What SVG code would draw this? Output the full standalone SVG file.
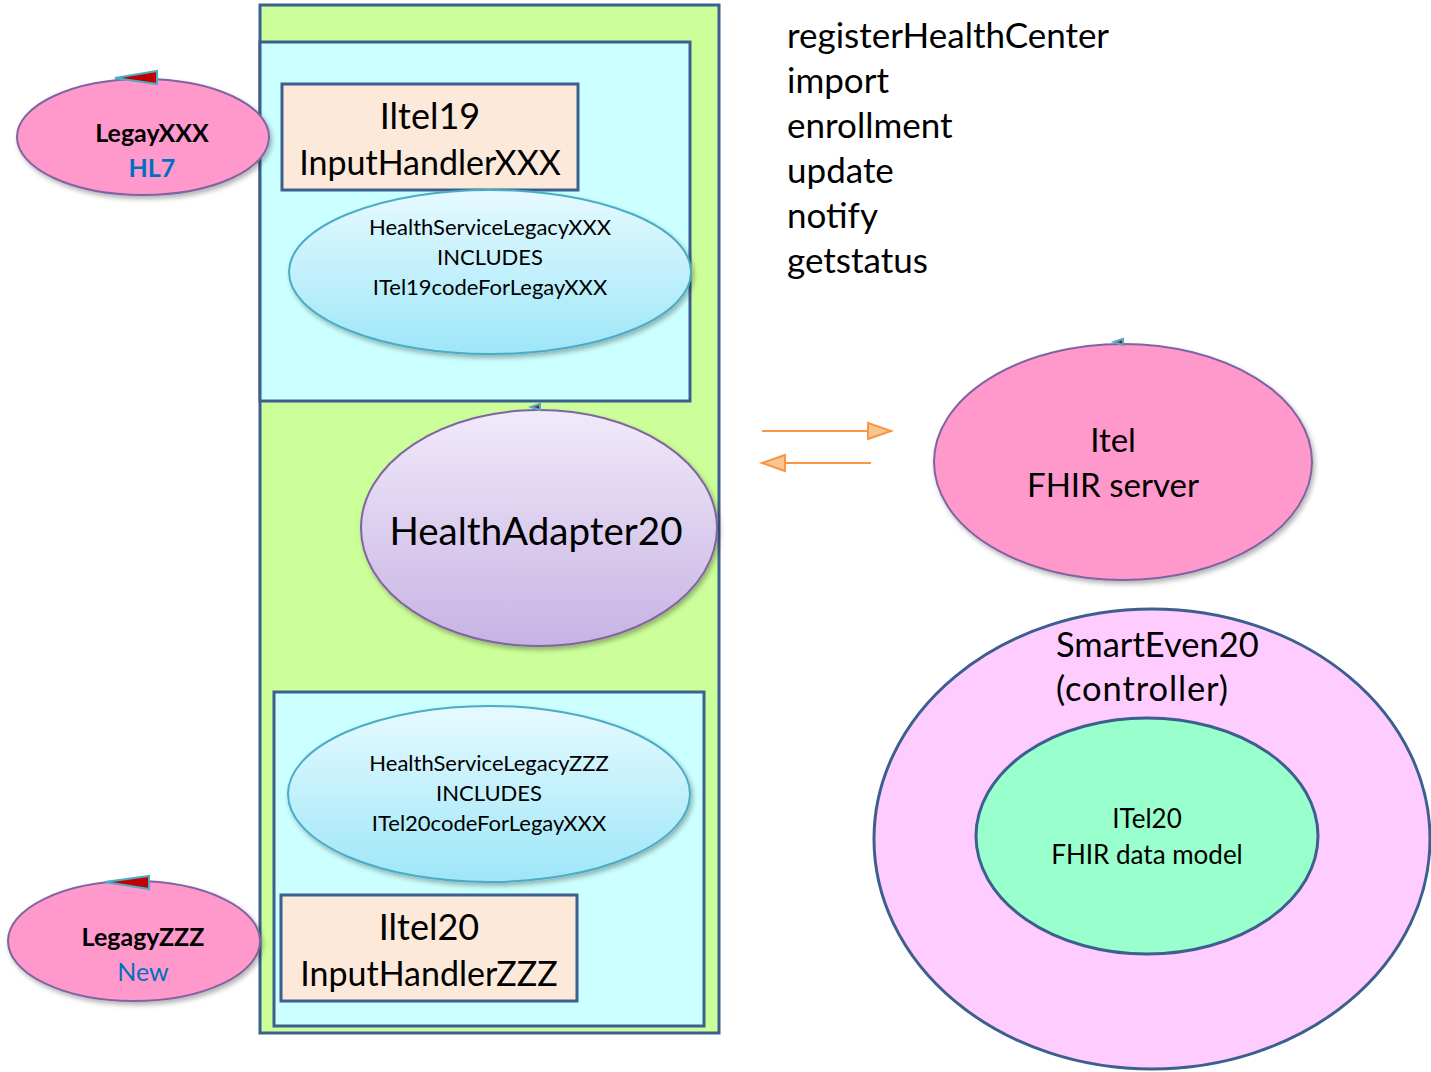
<svg xmlns="http://www.w3.org/2000/svg" width="1431" height="1072" viewBox="0 0 1431 1072">
<style>
text{font-family:Lato,"Open Sans","Liberation Sans",sans-serif;fill:#000;text-anchor:middle}
.frame{stroke:#3c5f8f;stroke-width:3}
.box{fill:#fde9d9;stroke:#3c5f8f;stroke-width:3}
.pink{fill:#ff99cc;stroke:#8064a2;stroke-width:2}
.svc{fill:url(#gSvc);stroke:#4bacc6;stroke-width:2}
.tri{fill:#c00000;stroke:#4bacc6;stroke-width:2}
.arr{stroke:#f79646;stroke-width:2;fill:none}
.head{fill:#fbc590;stroke:#f79646;stroke-width:2}
.op{font-size:35px;text-anchor:start}
</style>
<defs>
<linearGradient id="gSvc" x1="0" y1="0" x2="0" y2="1"><stop offset="0" stop-color="#e6faff"/><stop offset="1" stop-color="#9ee6f8"/></linearGradient>
<linearGradient id="gHA" x1="0" y1="0" x2="0" y2="1"><stop offset="0" stop-color="#f1eafa"/><stop offset="1" stop-color="#c7b3e3"/></linearGradient>
<filter id="sh" x="-10%" y="-10%" width="130%" height="130%"><feDropShadow dx="2" dy="3" stdDeviation="2.5" flood-color="#000" flood-opacity="0.3"/></filter>
</defs>
<rect width="1431" height="1072" fill="#fff"/>
<g id="adapter-frame">
<rect class="frame" x="260" y="5" width="459" height="1028" fill="#ccff99"/>
</g>
<g id="upper-frame">
<rect class="frame" x="260" y="42" width="430" height="359" fill="#ccffff"/>
</g>
<g id="lower-frame">
<rect class="frame" x="274" y="692" width="430" height="334" fill="#ccffff"/>
</g>
<g id="iltel19">
<rect class="box" x="282" y="84" width="296" height="106"/>
<text x="430" y="129" font-size="36">Iltel19</text>
<text x="430" y="175" font-size="34">InputHandlerXXX</text>
</g>
<g id="service-xxx">
<ellipse class="svc" cx="490" cy="272" rx="201" ry="82" filter="url(#sh)"/>
<text x="490" y="235" font-size="22">HealthServiceLegacyXXX</text>
<text x="490" y="265" font-size="22">INCLUDES</text>
<text x="490" y="295" font-size="22">ITel19codeForLegayXXX</text>
</g>
<g id="health-adapter">
<ellipse cx="539" cy="528" rx="178" ry="118" fill="url(#gHA)" stroke="#8064a2" stroke-width="2" filter="url(#sh)"/>
<text x="536" y="545" font-size="38.5">HealthAdapter20</text>
<polygon class="tri" points="531,407 540,404 540,410" stroke-width="1.5"/>
</g>
<g id="service-zzz">
<ellipse class="svc" cx="489" cy="794" rx="201" ry="88" filter="url(#sh)"/>
<text x="489" y="771" font-size="22">HealthServiceLegacyZZZ</text>
<text x="489" y="801" font-size="22">INCLUDES</text>
<text x="489" y="831" font-size="22">ITel20codeForLegayXXX</text>
</g>
<g id="iltel20">
<rect class="box" x="281" y="895" width="296" height="106"/>
<text x="429" y="940" font-size="36">Iltel20</text>
<text x="429" y="986" font-size="34">InputHandlerZZZ</text>
</g>
<g id="legay-xxx">
<ellipse class="pink" cx="143" cy="137" rx="126" ry="58" filter="url(#sh)"/>
<text x="152" y="142" font-size="25" font-weight="bold">LegayXXX</text>
<text x="152" y="177" font-size="25" font-weight="bold" style="fill:#0070c0">HL7</text>
<polygon class="tri" points="115,78 157,71 157,84"/>
</g>
<g id="legagy-zzz">
<ellipse class="pink" cx="134" cy="941" rx="126" ry="60" filter="url(#sh)"/>
<text x="143" y="946" font-size="25" font-weight="bold">LegagyZZZ</text>
<text x="143" y="981" font-size="25" style="fill:#0070c0">New</text>
<polygon class="tri" points="105,882 149,876 149,889"/>
</g>
<g id="operations">
<text class="op" x="787" y="48">registerHealthCenter</text>
<text class="op" x="787" y="93">import</text>
<text class="op" x="787" y="138">enrollment</text>
<text class="op" x="787" y="183">update</text>
<text class="op" x="787" y="228">notify</text>
<text class="op" x="787" y="273">getstatus</text>
</g>
<g id="connectors">
<line class="arr" x1="762" y1="431" x2="869" y2="431"/>
<polygon class="head" points="868,423 891,431 868,439"/>
<line class="arr" x1="871" y1="463" x2="785" y2="463"/>
<polygon class="head" points="785,455 762,463 785,471"/>
</g>
<g id="fhir-server">
<ellipse class="pink" cx="1123" cy="462" rx="189" ry="118" filter="url(#sh)"/>
<text x="1113" y="452" font-size="33">Itel</text>
<text x="1113" y="497" font-size="33">FHIR server</text>
<polygon class="tri" points="1114,342 1123,339 1123,345" stroke-width="1.5" fill="#ff99cc"/>
</g>
<g id="smart-even">
<ellipse cx="1152" cy="839" rx="278" ry="230" fill="#ffccff" stroke="#3c5f8f" stroke-width="3"/>
<text x="1056" y="657" font-size="34.5" style="text-anchor:start">SmartEven20</text>
<text x="1056" y="701" font-size="34.5" style="text-anchor:start" textLength="172" lengthAdjust="spacing">(controller)</text>
</g>
<g id="itel20-model">
<ellipse cx="1147" cy="836" rx="171" ry="118" fill="#99ffcc" stroke="#3c5f8f" stroke-width="3"/>
<text x="1147" y="828" font-size="26">ITel20</text>
<text x="1147" y="864" font-size="26">FHIR data model</text>
</g>
</svg>
